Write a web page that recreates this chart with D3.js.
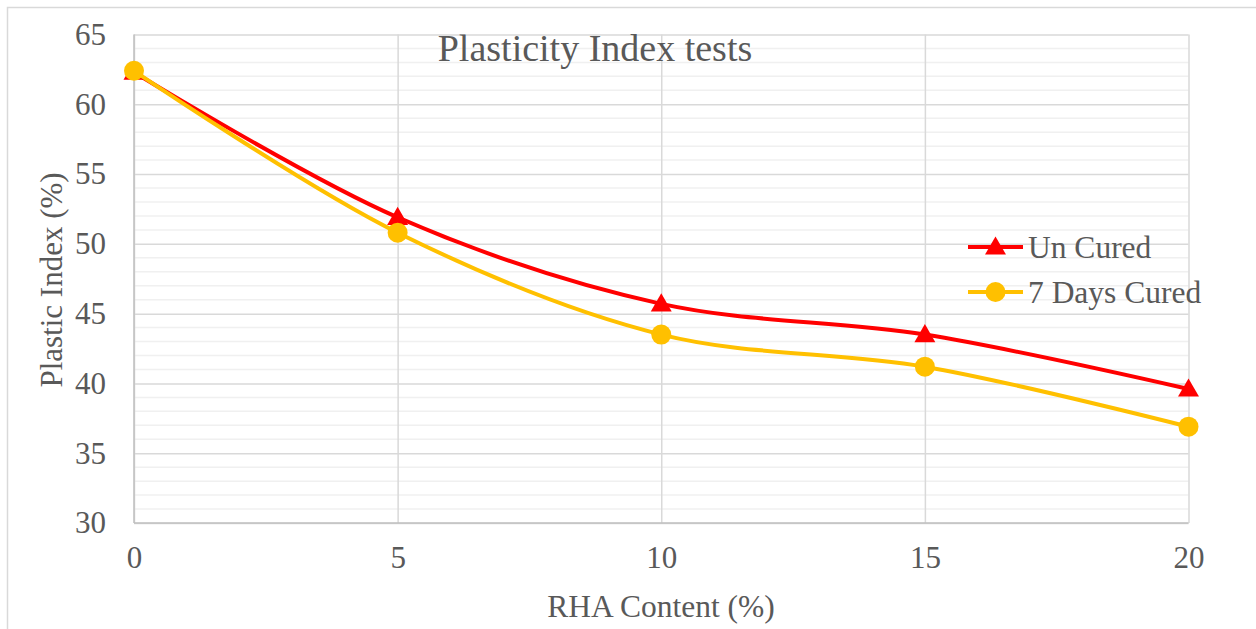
<!DOCTYPE html>
<html>
<head>
<meta charset="utf-8">
<script src="https://cdn.jsdelivr.net/npm/d3@7/dist/d3.min.js"></script>
<style>
  html, body { margin: 0; padding: 0; background: #fff; }
  svg text { font-family: "Liberation Serif", "Times New Roman", serif; fill: #595959; }
</style>
</head>
<body>
<svg id="chart" width="1256" height="629"></svg>
<script>
// RHA content (%) on the x axis
const rhaContent = [0, 5, 10, 15, 20];
// Plastic index (%) for each curing condition
const unCured = [62.3, 51.9, 45.7, 43.5, 39.6];
const cured7Days = [62.4, 50.8, 43.5, 41.2, 36.9];
const seriesNames = ["Un Cured", "7 Days Cured"];
const xTicks = [0, 5, 10, 15, 20];
const yTicks = [30, 35, 40, 45, 50, 55, 60, 65];

const svg = d3.select("#chart");
const W = 1256, H = 629;
const plot = { left: 134, right: 1188.5, top: 34.5, bottom: 523 };

// outer chart frame
svg.append("rect")
  .attr("x", 7.5).attr("y", 7.5)
  .attr("width", W).attr("height", H)
  .attr("fill", "none").attr("stroke", "#d9d9d9").attr("stroke-width", 1.5);

const x = d3.scaleLinear().domain([0, 20]).range([plot.left, plot.right]);
const y = d3.scaleLinear().domain([30, 65]).range([plot.bottom, plot.top]);

// minor horizontal gridlines every 1 unit
const minor = d3.range(30, 66, 1).filter(v => v % 5 !== 0);
svg.append("g").selectAll("line").data(minor).join("line")
  .attr("x1", plot.left).attr("x2", plot.right)
  .attr("y1", d => y(d)).attr("y2", d => y(d))
  .attr("stroke", "#f0f0f0").attr("stroke-width", 1.5);

// major gridlines via axes
const yGrid = svg.append("g").attr("transform", `translate(${plot.left},0)`)
  .call(d3.axisLeft(y).tickValues(yTicks).tickSize(-(plot.right - plot.left)).tickFormat(""));
yGrid.select(".domain").remove();
yGrid.selectAll("line").attr("stroke", "#d9d9d9").attr("stroke-width", 1.5);

const xGrid = svg.append("g").attr("transform", `translate(0,${plot.bottom})`)
  .call(d3.axisBottom(x).tickValues(xTicks).tickSize(-(plot.bottom - plot.top)).tickFormat(""));
xGrid.select(".domain").remove();
xGrid.selectAll("line").attr("stroke", "#d9d9d9").attr("stroke-width", 1.5);

// axis lines
svg.append("line").attr("x1", plot.left).attr("x2", plot.left)
  .attr("y1", plot.top).attr("y2", plot.bottom)
  .attr("stroke", "#bfbfbf").attr("stroke-width", 1.5);
svg.append("line").attr("x1", plot.left).attr("x2", plot.right)
  .attr("y1", plot.bottom).attr("y2", plot.bottom)
  .attr("stroke", "#bfbfbf").attr("stroke-width", 1.5);

// tick labels
const yAxis = svg.append("g").attr("transform", `translate(${plot.left},0)`)
  .call(d3.axisLeft(y).tickValues(yTicks).tickSize(0).tickPadding(28));
yAxis.select(".domain").remove();
yAxis.selectAll("text").style("font-size", "31px").attr("fill", "#595959")
  .style("font-family", "'Liberation Serif', serif");

const xAxis = svg.append("g").attr("transform", `translate(0,${plot.bottom})`)
  .call(d3.axisBottom(x).tickValues(xTicks).tickSize(0).tickPadding(23));
xAxis.select(".domain").remove();
xAxis.selectAll("text").style("font-size", "31px").attr("fill", "#595959")
  .style("font-family", "'Liberation Serif', serif");

// titles
svg.append("text").attr("x", 595).attr("y", 61)
  .attr("text-anchor", "middle").style("font-size", "38px")
  .text("Plasticity Index tests");
svg.append("text").attr("x", 661).attr("y", 617)
  .attr("text-anchor", "middle").style("font-size", "31.5px")
  .text("RHA Content (%)");
svg.append("text")
  .attr("transform", `translate(62,280) rotate(-90)`)
  .attr("text-anchor", "middle").style("font-size", "31px")
  .text("Plastic Index (%)");

// series
const series = [
  { name: seriesNames[0], values: unCured, color: "#ff0000", marker: "triangle" },
  { name: seriesNames[1], values: cured7Days, color: "#ffc000", marker: "circle" }
];

const line = d3.line()
  .x((d, i) => x(rhaContent[i]))
  .y(d => y(d))
  .curve(d3.curveCatmullRom.alpha(0.5));

const triangle = d3.symbol().type(d3.symbolTriangle).size(190);

function drawMarker(g, type, color) {
  if (type === "triangle") {
    g.append("path").attr("d", triangle()).attr("transform", "translate(0,1.5)").attr("fill", color);
  } else {
    g.append("circle").attr("r", 10).attr("fill", color);
  }
}

series.forEach(s => {
  svg.append("path").datum(s.values)
    .attr("d", line).attr("fill", "none")
    .attr("stroke", s.color).attr("stroke-width", 4)
    .attr("stroke-linecap", "round");
  s.values.forEach((v, i) => {
    const g = svg.append("g").attr("transform", `translate(${x(rhaContent[i])},${y(v)})`);
    drawMarker(g, s.marker, s.color);
  });
});

// legend
const legendY = [247, 292];
series.forEach((s, i) => {
  const g = svg.append("g").attr("transform", `translate(968,${legendY[i]})`);
  g.append("line").attr("x1", 0).attr("x2", 55).attr("y1", 0).attr("y2", 0)
    .attr("stroke", s.color).attr("stroke-width", 4);
  const m = g.append("g").attr("transform", "translate(27.5,0)");
  drawMarker(m, s.marker, s.color);
  g.append("text").attr("x", 60).attr("y", 11)
    .style("font-size", "31.5px").text(s.name);
});
</script>
</body>
</html>
